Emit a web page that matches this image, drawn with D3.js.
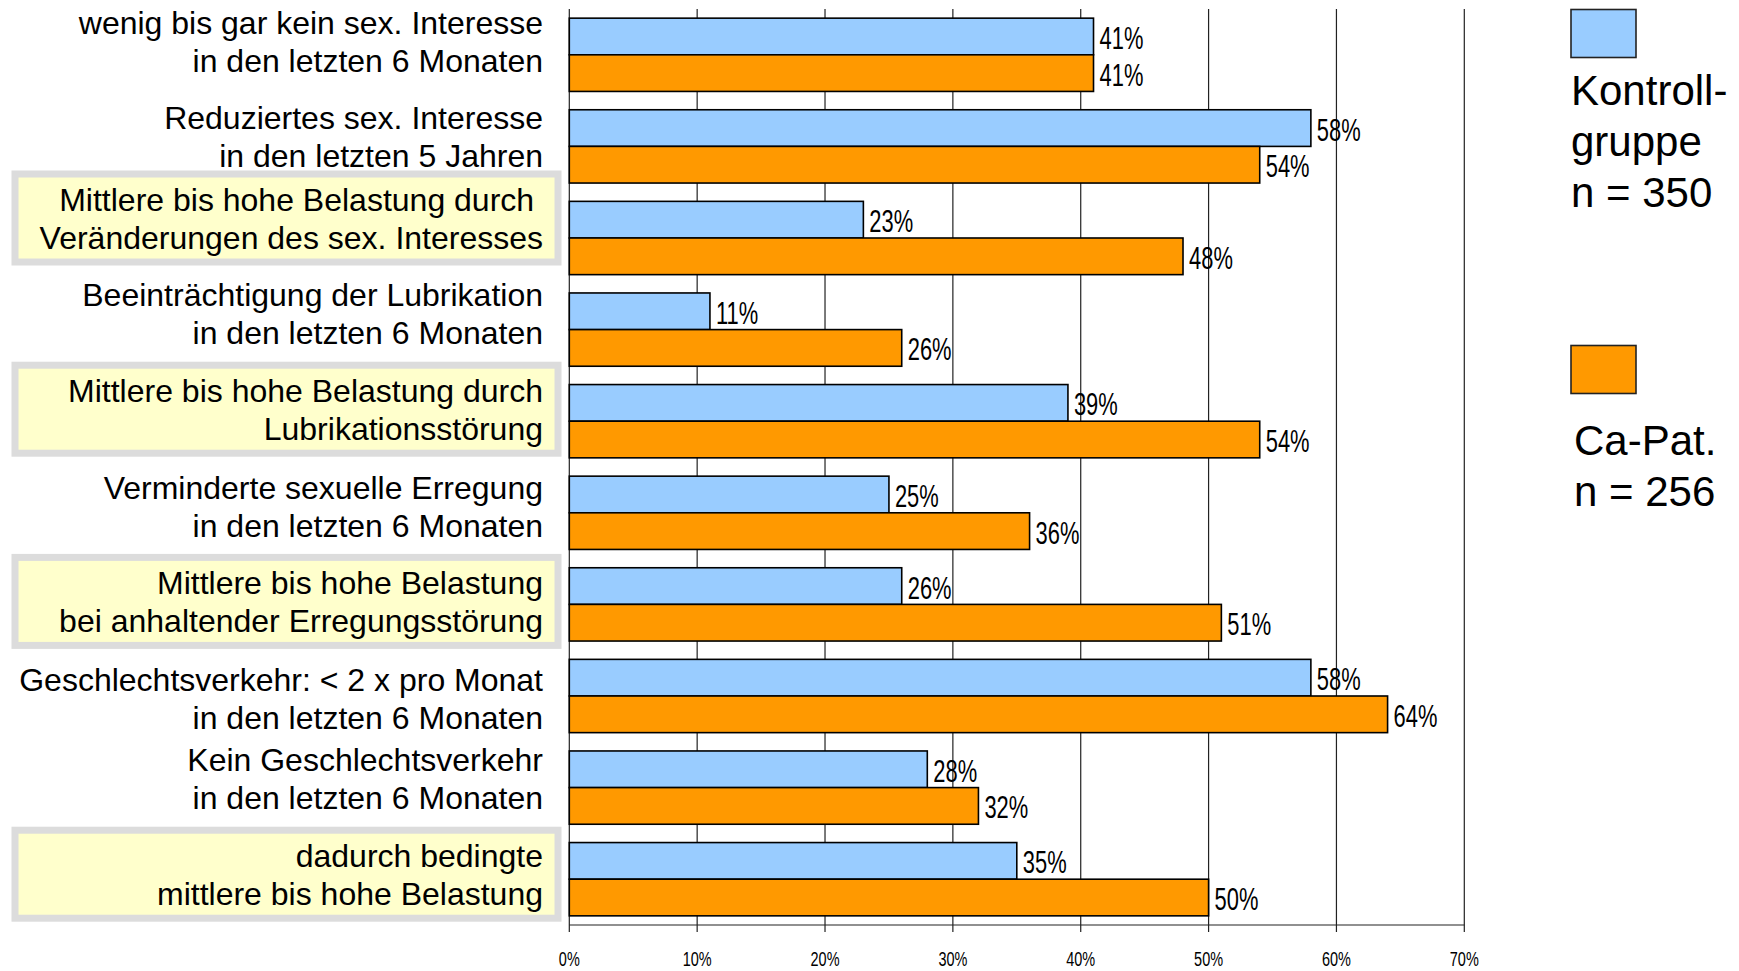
<!DOCTYPE html>
<html>
<head>
<meta charset="utf-8">
<script src="https://cdn.jsdelivr.net/npm/d3@7"></script>
<style>
  body { margin: 0; background: #fff; }
  svg { display: block; font-family: "Liberation Sans", Arial, sans-serif; }
</style>
</head>
<body>
<div id="d3-container"></div>
<script>
/* DATA */
const categories = [
  "wenig bis gar kein sex. Interesse|in den letzten 6 Monaten",
  "Reduziertes sex. Interesse|in den letzten 5 Jahren",
  "Mittlere bis hohe Belastung durch |Veränderungen des sex. Interesses",
  "Beeinträchtigung der Lubrikation|in den letzten 6 Monaten",
  "Mittlere bis hohe Belastung durch|Lubrikationsstörung",
  "Verminderte sexuelle Erregung|in den letzten 6 Monaten",
  "Mittlere bis hohe Belastung|bei anhaltender Erregungsstörung",
  "Geschlechtsverkehr: < 2 x pro Monat|in den letzten 6 Monaten",
  "Kein Geschlechtsverkehr|in den letzten 6 Monaten",
  "dadurch bedingte|mittlere bis hohe Belastung"
];
const kontrollValues = [41, 58, 23, 11, 39, 25, 26, 58, 28, 35];
const patientValues = [41, 54, 48, 26, 54, 36, 51, 64, 32, 50];
const highlighted = [2, 4, 6, 9];
const xTicks = [0, 10, 20, 30, 40, 50, 60, 70];
const legendKontroll = ["Kontroll-", "gruppe", "n = 350"];
const legendPatient = ["Ca-Pat.", "n = 256"];

/* CONSTANTS */
const width = 1739,
  height = 971,
  margin = { top: 9, bottom: 46, left: 569.3, right: 274.7 },
  blue = "#99CCFF",
  orange = "#FF9900";

// the label boxes were placed by hand, so each sits a little off its band centre
const labelShift = [-13, -9, -19, -16, -11, -6, -2, 3, -9, -4];

const svg = d3.select("#d3-container")
  .append("svg")
  .attr("width", width)
  .attr("height", height);

svg.append("rect")
  .attr("width", width)
  .attr("height", height)
  .attr("fill", "#fff");

/* SCALES */
const xScale = d3.scaleLinear()
  .domain([0, 70])
  .range([margin.left, width - margin.right]);

const yScale = d3.scaleBand()
  .domain(d3.range(categories.length))
  .range([margin.top, height - margin.bottom])
  .paddingInner(0.2)
  .paddingOuter(0.1);

const barH = yScale.bandwidth() / 2;
const axisY = height - margin.bottom;

/* GRID + AXIS */
svg.append("g")
  .selectAll("line")
  .data(xTicks)
  .join("line")
  .attr("x1", d => xScale(d))
  .attr("x2", d => xScale(d))
  .attr("y1", margin.top)
  .attr("y2", axisY + 7)
  .attr("stroke", "#222")
  .attr("stroke-width", 1.2);

svg.append("line")
  .attr("x1", xScale(0))
  .attr("x2", xScale(70))
  .attr("y1", axisY)
  .attr("y2", axisY)
  .attr("stroke", "#222")
  .attr("stroke-width", 1.2);

// narrow-looking tick labels: regular sans squeezed horizontally
svg.append("g")
  .selectAll("text")
  .data(xTicks)
  .join("text")
  .attr("transform", d => `translate(${xScale(d)}, ${axisY + 41}) scale(0.69, 1)`)
  .attr("text-anchor", "middle")
  .attr("font-size", 21)
  .attr("fill", "#000")
  .text(d => d + "%");

/* CATEGORY LABELS */
const labelGroup = svg.append("g")
  .selectAll("g")
  .data(categories)
  .join("g")
  .attr("transform", (d, i) => `translate(0, ${yScale(i) + yScale.bandwidth() / 2 + labelShift[i]})`);

labelGroup.filter((d, i) => highlighted.includes(i))
  .append("rect")
  .attr("x", 15)
  .attr("y", -45)
  .attr("width", 543)
  .attr("height", 88)
  .attr("fill", "#FFFFCC")
  .attr("stroke", "#DCDCDC")
  .attr("stroke-width", 7);

labelGroup.append("text")
  .attr("text-anchor", "end")
  .attr("font-size", 32)
  .attr("fill", "#000")
  .style("white-space", "pre")
  .selectAll("tspan")
  .data(d => d.split("|"))
  .join("tspan")
  .attr("x", 543)
  .attr("y", (d, j) => j === 0 ? -8 : 30)
  .text(d => d);

/* BARS */
const series = [
  { values: kontrollValues, color: blue, offset: 0 },
  { values: patientValues, color: orange, offset: barH }
];

series.forEach(s => {
  svg.append("g")
    .selectAll("rect")
    .data(s.values)
    .join("rect")
    .attr("x", xScale(0))
    .attr("y", (d, i) => yScale(i) + s.offset)
    .attr("width", d => xScale(d) - xScale(0))
    .attr("height", barH)
    .attr("fill", s.color)
    .attr("stroke", "#000")
    .attr("stroke-width", 1.6);

  svg.append("g")
    .selectAll("text")
    .data(s.values)
    .join("text")
    .attr("transform", (d, i) => `translate(${xScale(d) + 6}, ${yScale(i) + s.offset + barH / 2 + 12.5}) scale(0.685, 1)`)
    .attr("font-size", 32)
    .attr("fill", "#000")
    .text(d => d + "%");
});

/* LEGEND */
const legend = [
  { color: blue, lines: legendKontroll, top: 9.5, textX: 1571, firstBase: 105 },
  { color: orange, lines: legendPatient, top: 345.5, textX: 1574, firstBase: 455 }
];

legend.forEach(l => {
  svg.append("rect")
    .attr("x", 1571)
    .attr("y", l.top)
    .attr("width", 65)
    .attr("height", 48)
    .attr("fill", l.color)
    .attr("stroke", "#222")
    .attr("stroke-width", 1.6);

  svg.append("text")
    .attr("font-size", 42)
    .attr("fill", "#000")
    .selectAll("tspan")
    .data(l.lines)
    .join("tspan")
    .attr("x", l.textX)
    .attr("y", (d, j) => l.firstBase + j * 51)
    .text(d => d);
});
</script>
</body>
</html>
